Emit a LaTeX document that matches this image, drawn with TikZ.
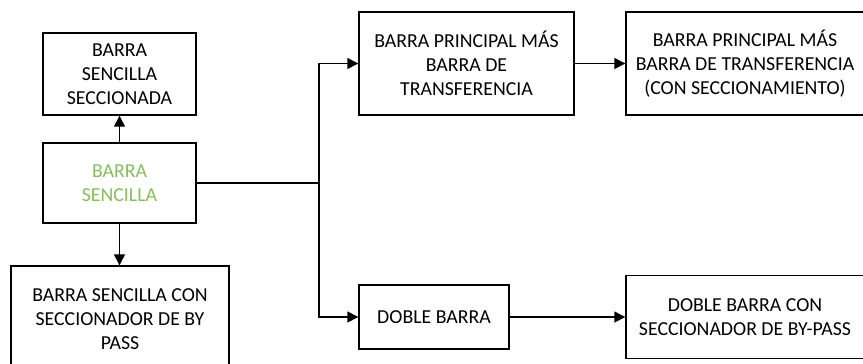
\documentclass[tikz,border=0pt]{standalone}
\usepackage{fontspec}
\setmainfont{Carlito}
\usetikzlibrary{arrows.meta}
\definecolor{sgreen}{RGB}{135,188,95}
\begin{document}
\begin{tikzpicture}[x=1pt,y=-1pt,
  box/.style={draw, line width=1.4pt, rectangle, align=center, inner sep=0pt,
    font=\fontsize{19.8}{24}\selectfont},
  conn/.style={line width=1.4pt, -{Triangle[length=11pt,width=11pt]}},
  plain/.style={line width=1.4pt}]
\useasboundingbox (0,0) rectangle (863,364);
\clip (0,0) rectangle (863,364);
\node[box, minimum width=153pt, minimum height=82pt] (secc) at (119.5,74) {BARRA\\SENCILLA\\SECCIONADA};
\node[box, minimum width=153pt, minimum height=80pt, text=sgreen] (sen) at (119.5,183) {BARRA\\SENCILLA};
\node[box, minimum width=218pt, minimum height=106pt] (byp) at (120,319) {BARRA SENCILLA CON\\SECCIONADOR DE BY\\PASS};
\node[box, minimum width=215pt, minimum height=103pt] (pri) at (466.5,63.5) {BARRA PRINCIPAL MÁS\\BARRA DE\\TRANSFERENCIA};
\node[box, minimum width=238pt, minimum height=103pt] (pris) at (745,63.5) {BARRA PRINCIPAL MÁS\\BARRA DE TRANSFERENCIA\\(CON SECCIONAMIENTO)};
\node[box, minimum width=150pt, minimum height=64pt] (dob) at (434,317) {DOBLE BARRA};
\node[box, minimum width=238pt, minimum height=83pt] (dobc) at (745,317) {DOBLE BARRA CON\\SECCIONADOR DE BY-PASS};
\coordinate (j) at (319,183);
\draw[conn] (sen.north) -- (secc.south);
\draw[conn] (sen.south) -- (sen.south |- byp.north);
\draw[plain] (sen.east) -- (j);
\draw[conn] (j) |- (pri.west);
\draw[conn] (j) |- (dob.west);
\draw[conn] (pri.east) -- (pris.west);
\draw[conn] (dob.east) -- (dobc.west);
\end{tikzpicture}
\end{document}
